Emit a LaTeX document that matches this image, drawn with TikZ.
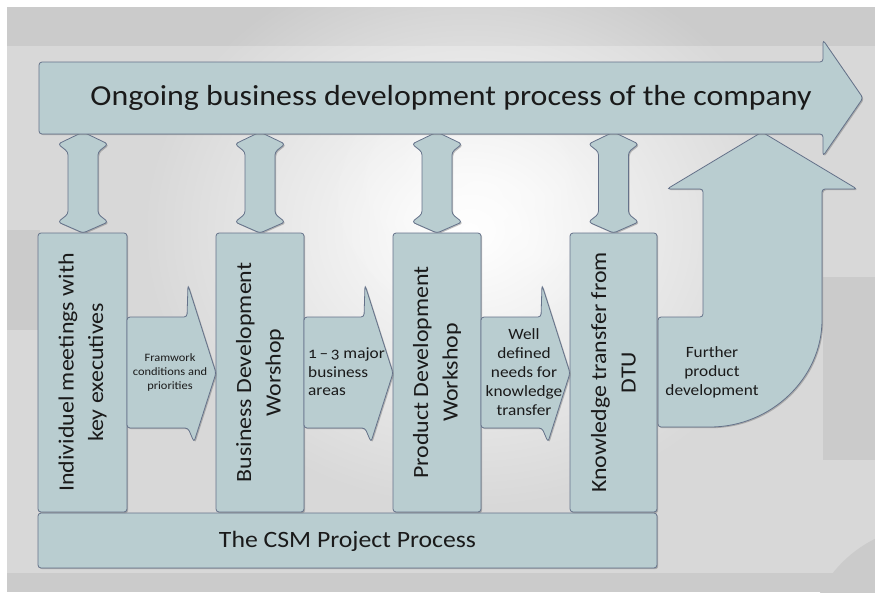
\documentclass[tikz,border=0pt]{standalone}
\usepackage{fontspec}
\setmainfont{Carlito}[FakeStretch=1.1]
\usetikzlibrary{shadows,fadings}
\definecolor{bggray}{HTML}{CBCBCB}
\definecolor{bglight}{HTML}{D8D8D8}
\definecolor{blkfill}{HTML}{B9CDD0}
\definecolor{blkline}{HTML}{65728A}
\definecolor{txt}{HTML}{1A1A1A}
\tikzfading[name=glow, inner color=transparent!0, outer color=transparent!100]
\tikzset{
  blk/.style={fill=blkfill, draw=blkline, line width=0.8pt, rounded corners=3pt,
    drop shadow={shadow xshift=1.2pt, shadow yshift=-1.2pt, opacity=0.45, fill=black!55}},
  lbl/.style={text=txt, inner sep=0pt, align=center},
  collbl/.style={lbl, rotate=90, font=\fontsize{21.7}{29.5}\selectfont},
  arrlbl/.style={lbl, font=\fontsize{15.7}{19}\selectfont},
}
\begin{document}
\begin{tikzpicture}[x=1pt,y=-1pt]
\useasboundingbox (0,0) rectangle (875,592);

% backdrop
\fill[white] (0,0) rectangle (875,592);
\fill[bggray] (7,7) rectangle (875,592);
\fill[bglight] (7,46) rectangle (875,573);
\fill[bggray] (7,230) rectangle (40,330);
\fill[bggray] (823,277) rectangle (875,460);
\fill[bggray] (930,650) circle (124);
\fill[white, path fading=glow] (470,230) ellipse (330 and 280);
\fill[white, opacity=0.5, path fading=glow] (480,200) ellipse (160 and 140);

% up-turning arrow on the right
\path[blk] (658,317) -- (703,317) -- (703,189) -- (667,189) -- (762,132)
  -- (857,189) -- (822,189) -- (822,317)
  .. controls (822,378) and (771,427) .. (707,427) -- (658,427) -- cycle;
\node[arrlbl] (further) at (712,372) {Further\\product\\development};

% two-headed links between the columns and the company process
\foreach \cx/\nm in {83/d1, 260/d2, 437/d3, 613.5/d4}{
  \path[blk] (\cx,132) -- (\cx+25,144) -- (\cx+15,152) -- (\cx+15,214)
    -- (\cx+25,222) -- (\cx,233) -- (\cx-25,222) -- (\cx-15,214)
    -- (\cx-15,152) -- (\cx-25,144) -- cycle;
  \coordinate (\nm) at (\cx,182);
}

% company process arrow
\path[blk] (39,62) -- (823,62) -- (823,40) -- (863,98) -- (823,156)
  -- (823,134) -- (39,134) -- cycle;
\node[lbl, font=\fontsize{29}{34}\selectfont] (company) at (451,98)
  {Ongoing business development process of the company};

% project process bar
\path[blk] (38,513) rectangle (657,568);
\node[lbl, font=\fontsize{23.4}{28}\selectfont] (csm) at (347.5,541) {The CSM Project Process};

% columns
\foreach \xl/\xr in {38/127, 216/304, 393/481, 570/657}{
  \path[blk] (\xl,233) rectangle (\xr,512);
}
\node[collbl] (c1) at (82.5,372.5) {Individuel meetings with\\key executives};
\node[collbl] (c2) at (260,372.5) {Business Development\\Worshop};
\node[collbl] (c3) at (437,372.5) {Product Development\\Workshop};
\node[collbl] (c4) at (613.5,372.5) {Knowledge transfer from\\DTU};

% step arrows between the columns
\foreach \r/\l in {127/216, 304/393, 481/570}{
  \path[blk] (\r,317) -- (\r+60,317) -- (\r+61,285) -- (\l,373) -- (\r+67,442)
    -- (\r+61,428) -- (\r,428) -- cycle;
}
\node[lbl, font=\fontsize{11.3}{14}\selectfont] (a1) at (170,372)
  {Framwork\\conditions and\\priorities};
\node[lbl, anchor=west, align=left, font=\fontsize{15.7}{18.5}\selectfont] (a2) at (308,372)
  {{\addfontfeatures{Numbers=OldStyle}1\,–\,3} major\\business\\areas};
\node[arrlbl] (a3) at (524,372) {Well\\defined\\needs for\\knowledge\\transfer};

\end{tikzpicture}
\end{document}
